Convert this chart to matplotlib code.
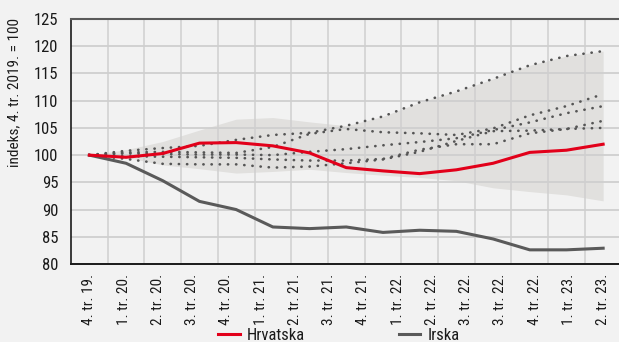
import numpy as np
import matplotlib
matplotlib.use("Agg")
import matplotlib.pyplot as plt

plt.rcParams['font.family'] = ['Roboto Condensed', 'Archivo Narrow', 'DejaVu Sans']

# Quarterly index, 4th quarter 2019 = 100
quarter_labels = ["4. tr. 19.", "1. tr. 20.", "2. tr. 20.", "3. tr. 20.", "4. tr. 20.",
                  "1. tr. 21.", "2. tr. 21.", "3. tr. 21.", "4. tr. 21.", "1. tr. 22.",
                  "2. tr. 22.", "3. tr. 22.", "3. tr. 22.", "4. tr. 22.", "1. tr. 23.",
                  "2. tr. 23."]

hrvatska = [100, 99.6, 100.3, 102.2, 102.3, 101.7, 100.4, 97.7, 97.1, 96.6, 97.3, 98.5, 100.5, 100.9, 102.0]
irska = [100, 98.5, 95.3, 91.5, 90.0, 86.8, 86.5, 86.8, 85.8, 86.2, 86.0, 84.6, 82.6, 82.6, 82.9]

# other countries shown as dotted lines
country_a = [100, 100.8, 101.3, 101.7, 102.8, 103.7, 104.1, 105.4, 107.1, 109.7, 111.7, 114.0, 116.5, 118.2, 119.1]
country_b = [100, 100.5, 100.6, 100.5, 100.4, 101.5, 103.9, 104.8, 104.2, 104.0, 103.7, 104.9, 107.3, 109.0, 111.2]
country_c = [100, 100.3, 100.2, 100.1, 100.1, 100.0, 100.6, 101.1, 101.8, 102.4, 103.1, 104.6, 106.0, 107.7, 109.0]
country_d = [100, 99.8, 99.7, 99.6, 99.5, 99.2, 99.0, 99.0, 99.3, 101.0, 102.0, 102.0, 104.0, 104.8, 106.3]
country_e = [100, 99.3, 98.4, 98.3, 98.3, 97.7, 97.9, 98.5, 99.2, 100.6, 102.6, 104.4, 104.5, 104.8, 105.0]

# range across the comparison group
range_low = [100, 99.6, 98.2, 97.5, 96.7, 97.0, 97.4, 96.8, 96.3, 95.9, 95.3, 94.0, 93.3, 92.7, 91.6]
range_high = [100, 101.0, 102.5, 104.6, 106.6, 106.9, 106.1, 105.4, 107.1, 109.7, 111.7, 114.0, 116.5, 118.2, 119.1]

BG = "#f2f2f2"
GRID = "#cfcfcf"
RED = "#e2001a"
DARK = "#5a5a5a"
DOT = "#555555"
BAND = "#e1e0de"
TEXT = "#1a1a1a"

fig = plt.figure(figsize=(6.19, 3.42), dpi=100, facecolor=BG)
ax = fig.add_axes([71 / 619, 78 / 342, 550.5 / 619, 245 / 342])
ax.set_facecolor(BG)

x = np.arange(len(hrvatska))

ax.fill_between(x, range_low, range_high, color=BAND, lw=0, zorder=0.5)

for yv in range(85, 125, 5):
    ax.axhline(yv, color=GRID, lw=1.3, zorder=1)
for xv in np.arange(0.5, len(x) - 1, 1.0):
    ax.axvline(xv, color=GRID, lw=1.1, zorder=1)

for series in (country_a, country_b, country_c, country_d, country_e):
    ax.plot(x, series, color=DOT, lw=1.9, linestyle=(0, (0.1, 3.0)),
            dash_capstyle='round', zorder=2)

ax.plot(x, irska, color=DARK, lw=2.2, zorder=3, label="Irska")
ax.plot(x, hrvatska, color=RED, lw=2.2, zorder=4, label="Hrvatska")

ax.set_xlim(-0.5, len(x) - 0.5)
ax.set_ylim(80, 125)
ax.set_yticks(range(80, 126, 5))
ax.tick_params(axis='y', length=0, pad=9, labelsize=12, colors=TEXT)

ax.set_xticks(np.linspace(0, len(x) - 1, len(quarter_labels)))
ax.set_xticklabels(quarter_labels, rotation=90, fontsize=11, color=TEXT)
ax.tick_params(axis='x', length=0, pad=7)

ax.set_ylabel("indeks, 4. tr. 2019. = 100", fontsize=11, color=TEXT)
ax.yaxis.set_label_coords(-0.091, 0.70)

ax.spines['right'].set_visible(False)
ax.spines['top'].set_color('#5a5a5a')
ax.spines['top'].set_linewidth(1.5)
ax.spines['left'].set_color(TEXT)
ax.spines['left'].set_linewidth(1.2)
ax.spines['bottom'].set_color(TEXT)
ax.spines['bottom'].set_linewidth(1.4)

handles, labels = ax.get_legend_handles_labels()
order = [labels.index("Hrvatska"), labels.index("Irska")]
fig.legend([handles[i] for i in order], [labels[i] for i in order],
           loc='center', bbox_to_anchor=(339 / 619, 7 / 342), ncol=2, frameon=False,
           fontsize=12, handlelength=1.3, handletextpad=0.45, columnspacing=5.6,
           labelcolor=TEXT, borderpad=0.1)

fig.savefig("out.png", dpi=100, facecolor=BG)
